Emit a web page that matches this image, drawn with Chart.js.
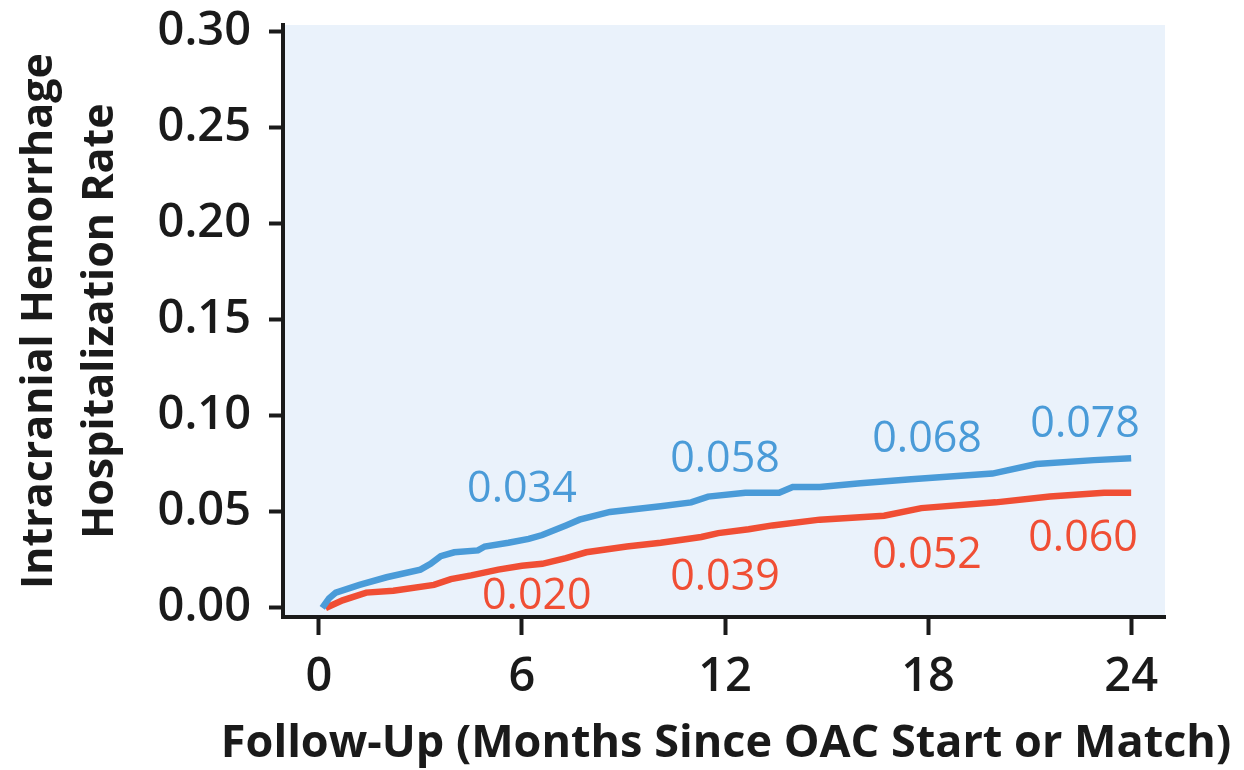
<!DOCTYPE html>
<html>
<head>
<meta charset="utf-8">
<script src="https://cdn.jsdelivr.net/npm/chart.js@4/dist/chart.umd.min.js"></script>
<style>
  html, body { margin: 0; padding: 0; background: #fff; }
  #wrap { width: 1244px; height: 770px; }
</style>
</head>
<body>
<div id="wrap"><canvas id="chart" width="1244" height="770"></canvas></div>
<script>
// months since OAC start
const blueMonths = [0.1, 0.3, 0.5, 1.2, 2.0, 3.0, 3.3, 3.6, 4.0, 4.7, 4.9, 5.6, 6.2, 6.6, 7.3, 7.7, 8.6, 10.1, 11.0, 11.5, 12.6, 13.6, 14.0, 14.8, 16.0, 17.5, 19.9, 21.2, 22.9, 24.0];
const blueRates = [0.000, 0.005, 0.008, 0.012, 0.016, 0.020, 0.023, 0.027, 0.029, 0.030, 0.032, 0.034, 0.036, 0.038, 0.043, 0.046, 0.050, 0.053, 0.055, 0.058, 0.060, 0.060, 0.063, 0.063, 0.065, 0.067, 0.070, 0.075, 0.077, 0.078];

const redMonths = [0.2, 0.7, 1.4, 2.2, 3.4, 3.9, 4.5, 5.3, 6.0, 6.6, 7.3, 7.9, 9.1, 10.1, 11.3, 11.8, 12.7, 13.4, 14.8, 16.7, 17.8, 20.0, 21.6, 23.2, 24.0];
const redRates = [0.000, 0.004, 0.008, 0.009, 0.012, 0.015, 0.017, 0.020, 0.022, 0.023, 0.026, 0.029, 0.032, 0.034, 0.037, 0.039, 0.041, 0.043, 0.046, 0.048, 0.052, 0.055, 0.058, 0.060, 0.060];

const xTicks = [0, 6, 12, 18, 24];
const yTicks = [0, 0.05, 0.10, 0.15, 0.20, 0.25, 0.30];

const blueLabels = ["0.034", "0.058", "0.068", "0.078"];
const redLabels = ["0.020", "0.039", "0.052", "0.060"];
// where each label sits, in [month, rate]
const blueLabelAt = [[6.0, 0.0615], [12.0, 0.077], [17.97, 0.0875], [22.64, 0.0953]];
const redLabelAt = [[6.44, 0.0057], [12.0, 0.0156], [17.97, 0.027], [22.58, 0.036]];

const xTitle = "Follow-Up (Months Since OAC Start or Match)";
const yTitle = ["Intracranial Hemorrhage", "Hospitalization Rate"];

const BLUE = "#4a9bd8";
const RED = "#f04e34";
const INK = "#1a1a1a";

function toPoints(xs, ys) {
  return xs.map((x, i) => ({ x, y: ys[i] }));
}

const plotBackground = {
  id: "plotBackground",
  beforeDraw(chart) {
    const { ctx, chartArea: a } = chart;
    ctx.save();
    ctx.fillStyle = "#eaf2fb";
    ctx.fillRect(a.left, a.top, a.right - a.left, a.bottom - a.top);
    ctx.restore();
  },
};

const valueLabels = {
  id: "valueLabels",
  afterDatasetsDraw(chart) {
    const { ctx, scales } = chart;
    ctx.save();
    ctx.font = "400 43px 'Open Sans'";
    ctx.textAlign = "center";
    ctx.textBaseline = "middle";
    const draw = (texts, spots, color) => {
      ctx.fillStyle = color;
      texts.forEach((t, i) => {
        ctx.fillText(t, scales.x.getPixelForValue(spots[i][0]), scales.y.getPixelForValue(spots[i][1]));
      });
    };
    draw(blueLabels, blueLabelAt, BLUE);
    draw(redLabels, redLabelAt, RED);
    ctx.restore();
  },
};

// x title runs wider than the plot, so it is drawn here instead of by the scale
const bottomTitle = {
  id: "bottomTitle",
  afterDraw(chart) {
    const { ctx } = chart;
    ctx.save();
    ctx.font = "700 45px 'Open Sans'";
    ctx.fillStyle = INK;
    ctx.textAlign = "center";
    ctx.textBaseline = "middle";
    ctx.fillText(xTitle, 726, 744);
    ctx.restore();
  },
};

new Chart(document.getElementById("chart"), {
  type: "line",
  data: {
    datasets: [
      {
        data: toPoints(blueMonths, blueRates),
        borderColor: BLUE,
        borderWidth: 6.5,
        pointRadius: 0,
        tension: 0,
      },
      {
        data: toPoints(redMonths, redRates),
        borderColor: RED,
        borderWidth: 6.5,
        pointRadius: 0,
        tension: 0,
      },
    ],
  },
  options: {
    responsive: false,
    animation: false,
    events: [],
    layout: { padding: { top: 25, right: 79, left: 0, bottom: 0 } },
    plugins: { legend: { display: false }, tooltip: { enabled: false } },
    scales: {
      x: {
        type: "linear",
        min: -1.06,
        max: 25.0,
        afterBuildTicks: (scale) => { scale.ticks = xTicks.map((v) => ({ value: v })); },
        afterFit: (scale) => { scale.height = 153; scale.paddingLeft = 0; scale.paddingRight = 0; },
        border: { display: true, color: INK, width: 4 },
        grid: { drawOnChartArea: false, drawTicks: true, tickLength: 18, tickColor: INK, tickWidth: 4, color: INK },
        ticks: { color: INK, padding: 14, font: { family: "'Open Sans'", size: 47, weight: 600 } },
      },
      y: {
        type: "linear",
        min: -0.0047,
        max: 0.3036,
        afterBuildTicks: (scale) => { scale.ticks = yTicks.map((v) => ({ value: v })); },
        afterFit: (scale) => { scale.width = 283; scale.paddingTop = 0; scale.paddingBottom = 0; },
        border: { display: true, color: INK, width: 4 },
        grid: { drawOnChartArea: false, drawTicks: true, tickLength: 14, tickColor: INK, tickWidth: 4, color: INK },
        ticks: {
          color: INK,
          padding: 18,
          font: { family: "'Open Sans'", size: 47, weight: 600 },
          callback: (v) => Number(v).toFixed(2),
        },
        title: {
          display: true,
          text: yTitle,
          color: INK,
          font: { family: "'Open Sans'", size: 43, weight: 700, lineHeight: 1.4 },
          padding: { top: 10, bottom: 0 },
        },
      },
    },
  },
  plugins: [plotBackground, valueLabels, bottomTitle],
});
</script>
</body>
</html>
